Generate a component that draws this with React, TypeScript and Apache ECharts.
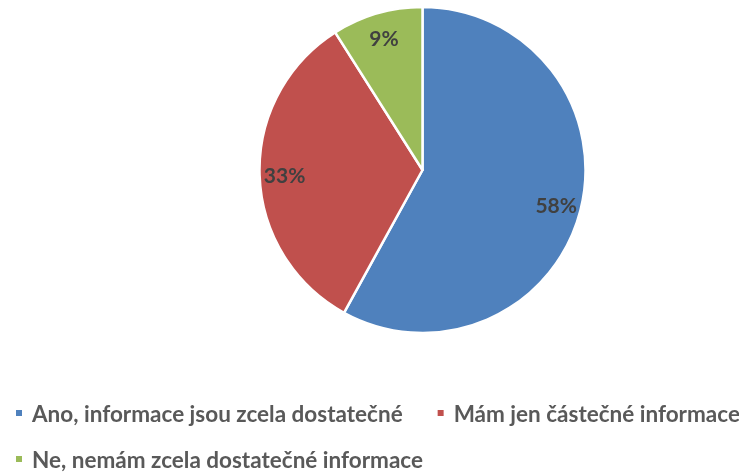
import React, { useEffect, useRef } from "react";
import * as echarts from "echarts";

const categories = [
  "Ano, informace jsou zcela dostatečné",
  "Mám jen částečné informace",
  "Ne, nemám zcela dostatečné informace",
];
const values = [58, 33, 9];
const colors = ["#4F81BD", "#C0504D", "#9BBB59"];

const FONT = "Lato";

export default function App() {
  const ref = useRef<HTMLDivElement>(null);
  useEffect(() => {
    if (!ref.current) return;
    const chart = echarts.init(ref.current, undefined, { renderer: "svg" });
    const data = categories.map((name, i) => ({
      name,
      value: values[i],
      itemStyle: { color: colors[i] },
    }));
    const legendText = {
      fontFamily: FONT,
      fontWeight: "bold" as const,
      fontSize: 22.5,
      lineHeight: 24,
      color: "#595959",
      padding: [0, 0, 0, 4],
    };
    chart.setOption({
      animation: false,
      legend: [
        {
          data: [categories[0], categories[1]],
          left: 9,
          top: 396,
          width: 900,
          orient: "horizontal",
          itemWidth: 8,
          itemHeight: 8,
          itemGap: 33,
          icon: "rect",
          textStyle: legendText,
          selectedMode: false,
        },
        {
          data: [categories[2]],
          left: 9,
          top: 442,
          width: 900,
          itemWidth: 8,
          itemHeight: 8,
          icon: "rect",
          textStyle: legendText,
          selectedMode: false,
        },
      ],
      series: [
        {
          type: "pie",
          center: [422.5, 170],
          radius: [0, 163],
          startAngle: 90,
          clockwise: true,
          data,
          label: { show: false },
          labelLine: { show: false },
          itemStyle: { borderColor: "#ffffff", borderWidth: 2.5 },
          emphasis: { disabled: true },
          silent: true,
        },
        {
          type: "pie",
          center: [422.5, 170],
          radius: [107, 163],
          startAngle: 90,
          clockwise: true,
          data: data.map((d) => ({ ...d, itemStyle: { color: "rgba(0,0,0,0)" } })),
          label: {
            show: true,
            position: "inside",
            formatter: "{c}%",
            fontFamily: FONT,
            fontWeight: "bold",
            fontSize: 21,
            color: "#404040",
          },
          labelLine: { show: false },
          emphasis: { disabled: true },
          silent: true,
          legendHoverLink: false,
        },
      ],
    });
    return () => chart.dispose();
  }, []);
  return (
    <div
      ref={ref}
      style={{ position: "fixed", left: 0, top: 0, width: 739, height: 473 }}
    />
  );
}
